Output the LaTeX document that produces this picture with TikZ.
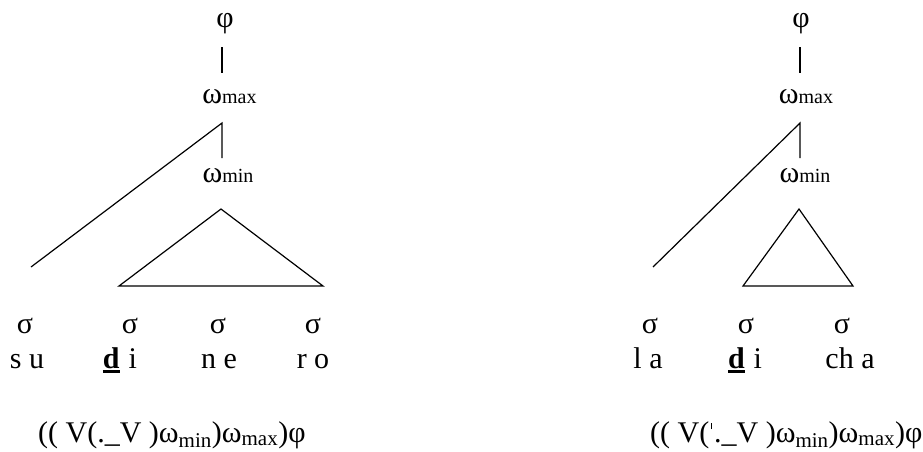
\documentclass[tikz,border=0pt]{standalone}
\usepackage{fontspec}
\setmainfont{Liberation Serif}
\newcommand\wsub[1]{ω{\fontsize{20}{20}\selectfont #1}}
\newcommand\ubd[1]{\setbox0\hbox{\textbf{#1}}\rlap{\rule[-5pt]{\wd0}{2.6pt}}\box0}
\newcommand\strk{\hspace{2pt}\rule[13pt]{0.8pt}{6.5pt}\hspace{2pt}}
\tikzset{
  lbl/.style={anchor=base, inner sep=0pt, font=\fontsize{30}{35}\selectfont},
  formula/.style={anchor=base west, inner sep=0pt, font=\fontsize{30}{35}\selectfont},
  edge/.style={line width=1.2pt, line join=miter},
}
\begin{document}
\begin{tikzpicture}[x=1pt, y=-1pt]
\useasboundingbox (0,0) rectangle (923,451);
% ---------------- left tree ----------------
\node[lbl] (Lphi) at (225,27) {φ};
\node[lbl] (Lwmax) at (229.5,103) {\wsub{max}};
\node[lbl] (Lwmin) at (228,182) {\wsub{min}};
\coordinate (Lp1) at (222,47);
\coordinate (Lp2) at (222,73);
\coordinate (Lj) at (222,123);
\coordinate (Lm) at (222,158);
\coordinate (Lleft) at (31,267);
\coordinate (Lapex) at (221,209);
\coordinate (Lbl) at (119,286);
\coordinate (Lbr) at (323,286);
\draw[edge] (Lp1) -- (Lp2);
\draw[edge] (Lleft) -- (Lj) -- (Lm);
\draw[edge] (Lbl) -- (Lapex) -- (Lbr) -- cycle;
\node[lbl] (Ls1) at (25,333) {σ};
\node[lbl] (Ls2) at (130,333) {σ};
\node[lbl] (Ls3) at (218,333) {σ};
\node[lbl] (Ls4) at (313,333) {σ};
\node[lbl] (Lt1) at (27,368) {s u};
\node[lbl] (Lt2) at (120,368) {\ubd{d}\hspace{0.3em}i};
\node[lbl] (Lt3) at (219,368) {n e};
\node[lbl] (Lt4) at (313,368) {r o};
\node[formula] (Lf) at (38,442) {(( V(.\_V )ω\textsubscript{min})ω\textsubscript{max})φ};
% ---------------- right tree ----------------
\node[lbl] (Rphi) at (801,27) {φ};
\node[lbl] (Rwmax) at (806,103) {\wsub{max}};
\node[lbl] (Rwmin) at (805,182) {\wsub{min}};
\coordinate (Rp1) at (800,47);
\coordinate (Rp2) at (800,73);
\coordinate (Rj) at (800,123);
\coordinate (Rm) at (800,158);
\coordinate (Rleft) at (653,267);
\coordinate (Rapex) at (799,209);
\coordinate (Rbl) at (743,286);
\coordinate (Rbr) at (853,286);
\draw[edge] (Rp1) -- (Rp2);
\draw[edge] (Rleft) -- (Rj) -- (Rm);
\draw[edge] (Rbl) -- (Rapex) -- (Rbr) -- cycle;
\node[lbl] (Rs1) at (650,333) {σ};
\node[lbl] (Rs2) at (746,333) {σ};
\node[lbl] (Rs3) at (842,333) {σ};
\node[lbl] (Rt1) at (648,368) {l a};
\node[lbl] (Rt2) at (745,368) {\ubd{d}\hspace{0.3em}i};
\node[lbl] (Rt3) at (850,368) {ch a};
\node[formula] (Rf) at (650,442) {(( V(\strk.\_V )ω\textsubscript{min})ω\textsubscript{max})φ};
\end{tikzpicture}
\end{document}
